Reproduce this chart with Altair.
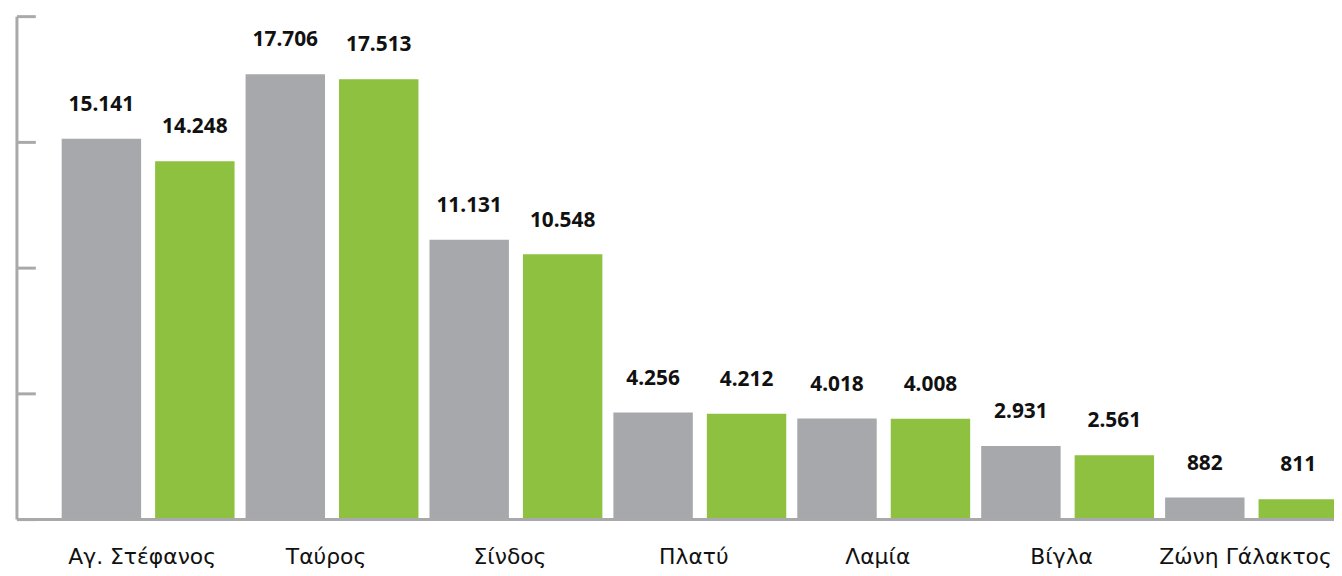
import altair as alt
import pandas as pd

categories = ["Αγ. Στέφανος", "Ταύρος", "Σίνδος", "Πλατύ", "Λαμία", "Βίγλα", "Ζώνη Γάλακτος"]
series_names = ["Σειρά 1", "Σειρά 2"]
values_gray = [15141, 17706, 11131, 4256, 4018, 2931, 882]
values_green = [14248, 17513, 10548, 4212, 4008, 2561, 811]
y_ticks = [0, 5000, 10000, 15000, 20000]

GRAY = "#a7a8ab"
GREEN = "#8dc13f"
AXIS = "#a9a9ab"

rows = []
for c, g, v in zip(categories, values_gray, values_green):
    rows.append({"cat": c, "series": series_names[0], "value": g,
                 "label": f"{g:,}".replace(",", ".")})
    rows.append({"cat": c, "series": series_names[1], "value": v,
                 "label": f"{v:,}".replace(",", ".")})
df = pd.DataFrame(rows)
ticks_df = pd.DataFrame({"t": y_ticks})

W, H = 1325, 506
yscale = alt.Scale(domain=[0, 20000], nice=False)
xscale = alt.Scale(range=[45, 1329], paddingInner=0.06, paddingOuter=0)

x_enc = alt.X("cat:N", sort=categories, scale=xscale,
              axis=alt.Axis(title=None, domain=False, ticks=False, labelAngle=0,
                            labelFont="DejaVu Sans", labelFontSize=22, labelColor="#111111",
                            labelPadding=27, labelOffset=-6))
xo_enc = alt.XOffset("series:N", sort=series_names,
                     scale=alt.Scale(paddingInner=0.15, paddingOuter=0))

bars = alt.Chart(df).mark_bar().encode(
    x=x_enc,
    xOffset=xo_enc,
    y=alt.Y("value:Q", scale=yscale, axis=None),
    color=alt.Color("series:N", scale=alt.Scale(domain=series_names, range=[GRAY, GREEN]),
                    legend=None),
)

labels = alt.Chart(df).mark_text(
    font="Noto Sans", fontSize=21, fontWeight="bold", color="#111111",
    baseline="alphabetic", dy=-28,
).encode(
    x=x_enc,
    xOffset=xo_enc,
    y=alt.Y("value:Q", scale=yscale),
    text="label:N",
)

tick_rules = alt.Chart(ticks_df).mark_rule(color=AXIS, strokeWidth=3).encode(
    y=alt.Y("t:Q", scale=yscale),
    x=alt.value(0),
    x2=alt.value(19),
)

ydomain = alt.Chart(ticks_df).mark_rule(color=AXIS, strokeWidth=3).encode(
    x=alt.value(0),
    y=alt.Y("min(t):Q", scale=yscale),
    y2=alt.Y2("max(t):Q"),
)

baseline = alt.Chart(ticks_df).mark_rule(color=AXIS, strokeWidth=3).encode(
    y=alt.Y("min(t):Q", scale=yscale),
    x=alt.value(0),
    x2=alt.value(W),
)

chart = alt.layer(bars, labels, tick_rules, ydomain, baseline).properties(
    width=W, height=H,
    autosize=alt.AutoSizeParams(type="none"),
    padding={"left": 9, "top": 7, "right": 0, "bottom": 48},
).configure_view(stroke=None).resolve_scale(y="shared")

chart.save("out.html", embed_options={"renderer": "svg", "actions": False})
